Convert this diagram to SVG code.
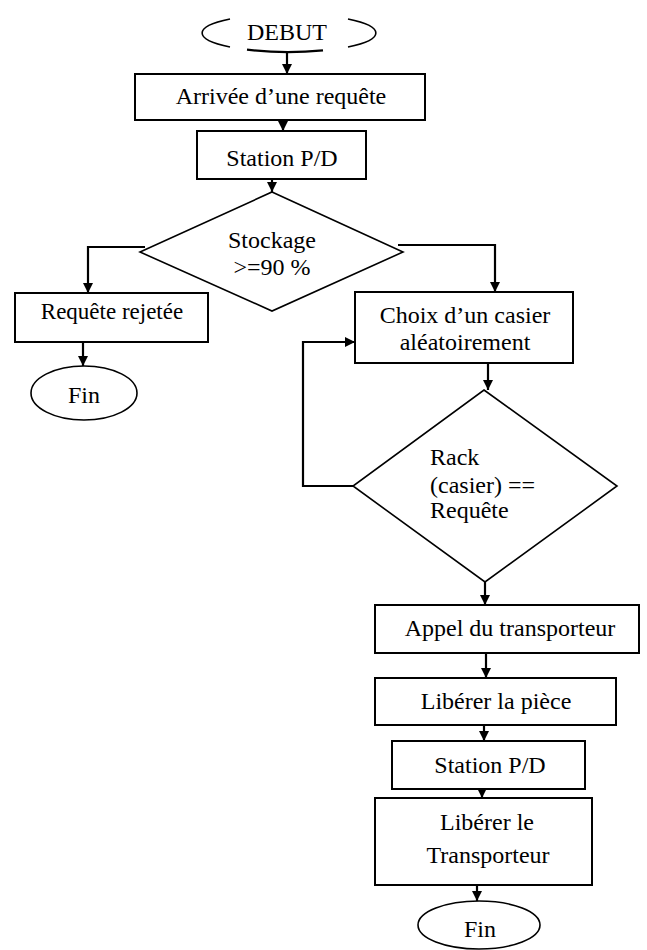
<svg xmlns="http://www.w3.org/2000/svg" width="647" height="950" viewBox="0 0 647 950">
<defs>
<marker id="ah" viewBox="0 0 10 10" refX="10" refY="5" markerWidth="10" markerHeight="10" markerUnits="userSpaceOnUse" orient="auto">
<path d="M0,0 L10,5 L0,10 z" fill="#000"/>
</marker>
</defs>
<style>
.box{fill:#fff;stroke:#000;stroke-width:2}
.dia{fill:#fff;stroke:#000;stroke-width:1.6}
.term{fill:#fff;stroke:#000;stroke-width:1.6}
.arc{fill:none;stroke:#000;stroke-width:1.6}
text{font-family:'Liberation Serif','DejaVu Serif','Times New Roman',serif;font-size:24px;fill:#000}
.t{text-anchor:middle}
.c{fill:none;stroke:#000;stroke-width:2.2;marker-end:url(#ah)}
</style>
<rect width="647" height="950" fill="#fff"/>
<g id="connectors">
<path class="c" d="M287,51 V74"/>
<path class="c" d="M283,120 V131"/>
<path class="c" d="M272,179 V192"/>
<path class="c" d="M145,247 H88 V293"/>
<path class="c" d="M398,245 H495 V292"/>
<path class="c" d="M83,342 V366"/>
<path class="c" d="M353,486 H303 V342 H355"/>
<path class="c" d="M488,363 V390"/>
<path class="c" d="M485,582 V605"/>
<path class="c" d="M486,653 V678"/>
<path class="c" d="M484,712 V741"/>
<path class="c" d="M482,776 V798"/>
<path class="c" d="M477,870 V901"/>
</g>
<g id="debut">
<path class="arc" d="M230,19 A86,19 0 0,0 230,47"/>
<path class="arc" d="M348,19 A86,19 0 0,1 348,47"/>
<path class="arc" style="stroke-width:2.2" d="M247,49.7 A86,19 0 0,0 323,50.4"/>
<text class="t" x="287" y="40">DEBUT</text>
</g>
<g id="arrivee">
<rect class="box" x="135" y="74" width="290" height="46"/>
<text class="t" x="281" y="104">Arrivée d’une requête</text>
</g>
<g id="station1">
<rect class="box" x="197" y="131" width="169" height="48"/>
<text class="t" x="282" y="166">Station P/D</text>
</g>
<g id="stockage">
<polygon class="dia" points="272,192 403,252 272,311 140,252"/>
<text class="t" x="272" y="248">Stockage</text>
<text class="t" x="272" y="275">&gt;=90 %</text>
</g>
<g id="rejetee">
<rect class="box" x="15" y="293" width="193" height="49"/>
<text class="t" x="112" y="319" style="font-size:23px">Requête rejetée</text>
</g>
<g id="fin1">
<ellipse class="term" cx="84" cy="393" rx="53" ry="27"/>
<text class="t" x="84" y="403">Fin</text>
</g>
<g id="choix">
<rect class="box" x="355" y="292" width="218" height="71"/>
<text class="t" x="465" y="323">Choix d’un casier</text>
<text class="t" x="465" y="350">aléatoirement</text>
</g>
<g id="rack">
<polygon class="dia" points="484,390 617,486 485,582 353,486"/>
<text x="430" y="465">Rack</text>
<text x="430" y="493">(casier) ==</text>
<text x="430" y="518">Requête</text>
</g>
<g id="appel">
<rect class="box" x="375" y="605" width="264" height="48"/>
<text class="t" x="510" y="636">Appel du transporteur</text>
</g>
<g id="liberer-piece">
<rect class="box" x="375" y="678" width="241" height="47"/>
<text class="t" x="496" y="709">Libérer la pièce</text>
</g>
<g id="station2">
<rect class="box" x="392" y="741" width="193" height="48"/>
<text class="t" x="490" y="773">Station P/D</text>
</g>
<g id="liberer-transporteur">
<rect class="box" x="375" y="798" width="217" height="87"/>
<text class="t" x="487" y="830">Libérer le</text>
<text class="t" x="488" y="863">Transporteur</text>
</g>
<g id="fin2">
<ellipse class="term" cx="479" cy="925" rx="61" ry="24"/>
<text class="t" x="480" y="937">Fin</text>
</g>
</svg>
